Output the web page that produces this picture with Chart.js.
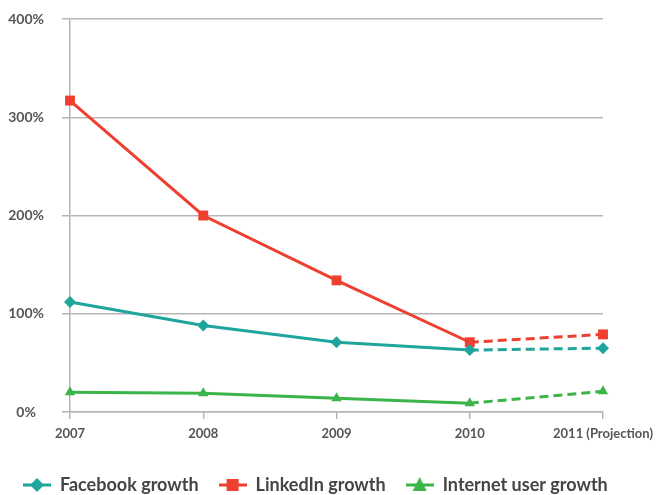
<!DOCTYPE html>
<html>
<head>
<meta charset="utf-8">
<script src="https://cdn.jsdelivr.net/npm/chart.js@4"></script>
<style>
  html, body { margin: 0; padding: 0; background: #fff; }
  #wrap { width: 657px; height: 495px; overflow: hidden; }
</style>
</head>
<body>
<div id="wrap"><canvas id="growthChart" width="657" height="495"></canvas></div>
<script>
// chart data
const years = ['2007', '2008', '2009', '2010', '2011 (Projection)'];
const facebookGrowth = [112, 88, 71, 63, 65];
const linkedinGrowth = [317, 200, 134, 71, 79];
const internetGrowth = [20, 19, 14, 9, 21];
const yTicks = [0, 100, 200, 300, 400];

const FONT = 'Lato, "Open Sans", sans-serif';
const colors = { facebook: '#1fa59b', linkedin: '#ee4030', internet: '#3bb54a' };

// projected segment (2010 -> 2011) is dashed
const dashLast = ctx => ctx.p0DataIndex === years.length - 2 ? [9, 5] : undefined;

// legend icon: short line with the marker in the middle
function legendIcon(color, shape) {
  const c = document.createElement('canvas');
  c.width = 28; c.height = 18;
  const g = c.getContext('2d');
  g.fillStyle = color;
  g.fillRect(0, 7.5, 28, 3);
  g.beginPath();
  if (shape === 'diamond') {
    g.moveTo(14, 2); g.lineTo(21, 9); g.lineTo(14, 16); g.lineTo(7, 9);
  } else if (shape === 'square') {
    g.rect(8, 3, 12, 12);
  } else {
    g.moveTo(14, 1); g.lineTo(21, 15); g.lineTo(7, 15);
  }
  g.closePath();
  g.fill();
  return c;
}

const series = [
  { label: 'Facebook growth', data: facebookGrowth, color: colors.facebook, style: 'rectRot', icon: 'diamond', r: 6 },
  { label: 'LinkedIn growth', data: linkedinGrowth, color: colors.linkedin, style: 'rect', icon: 'square', r: 7 },
  { label: 'Internet user growth', data: internetGrowth, color: colors.internet, style: 'triangle', icon: 'triangle', r: 6 }
];

const ctx = document.getElementById('growthChart').getContext('2d');
const chart = new Chart(ctx, {
  type: 'line',
  data: {
    labels: years,
    datasets: series.map(s => ({
      label: s.label,
      data: s.data,
      borderColor: s.color,
      backgroundColor: s.color,
      borderWidth: 3,
      pointStyle: s.style,
      pointRadius: s.r,
      pointBorderWidth: 0,
      tension: 0,
      segment: { borderDash: dashLast }
    }))
  },
  options: {
    responsive: false,
    animation: false,
    layout: { padding: { top: 19, right: 0, left: 3, bottom: -9 } },
    plugins: {
      tooltip: { enabled: false },
      legend: {
        position: 'bottom',
        align: 'start',
        labels: {
          usePointStyle: true,
          pointStyleWidth: 28,
          boxHeight: 16,
          padding: 20,
          color: '#444',
          font: { family: FONT, size: 18, weight: 'bold' },
          generateLabels: chart => series.map((s, i) => ({
            text: s.label,
            fillStyle: s.color,
            strokeStyle: s.color,
            lineWidth: 0,
            pointStyle: legendIcon(s.color, s.icon),
            datasetIndex: i,
            fontColor: '#444'
          }))
        }
      }
    },
    scales: {
      x: {
        offset: false,
        afterFit: axis => { axis.height = 44; axis.paddingRight = 54; },
        grid: { display: true, drawOnChartArea: false, drawTicks: true, tickLength: 7, color: '#b5b5b5', lineWidth: 1.5 },
        border: { display: true, color: '#b5b5b5', width: 1.5 },
        ticks: { color: '#555', padding: 7, maxRotation: 0, autoSkip: false, font: { family: FONT, size: 13, weight: 'bold' } }
      },
      y: {
        min: 0,
        max: 400,
        afterBuildTicks: axis => { axis.ticks = yTicks.map(v => ({ value: v })); },
        afterFit: axis => { axis.width = 67; axis.paddingTop = 8; axis.paddingBottom = 8; },
        grid: { color: '#b5b5b5', lineWidth: 1.5, tickLength: 8 },
        border: { display: true, color: '#b5b5b5', width: 1.5 },
        ticks: { color: '#555', padding: 18, crossAlign: 'center', callback: v => v + '%', font: { family: FONT, size: 14, weight: 'bold' } }
      }
    }
  }
});
</script>
</body>
</html>
